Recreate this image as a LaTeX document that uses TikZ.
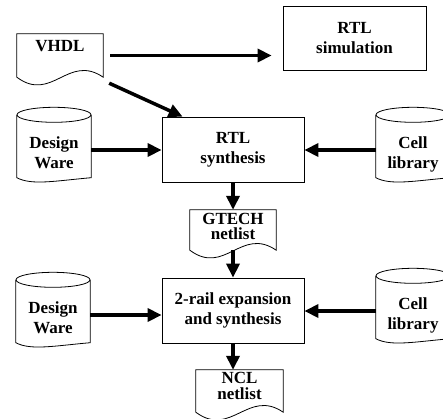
\documentclass[tikz,border=0pt]{standalone}
\usepackage{fontspec}
\setmainfont{Liberation Serif}
\usetikzlibrary{arrows.meta,calc}
\newcommand{\docoutline}[1]{%
  \draw[line width=0.8pt] (#1.north west) -- (#1.north east) -- (#1.south east)
    .. controls +(-35,-24) and +(35,26) .. (#1.south west) -- cycle;}
\newcommand{\drumoutline}[1]{%
  \draw[line width=0.8pt] ($(#1.north west)+(0,-7.5)$) -- (#1.south west)
    .. controls +(15,8) and +(-35,3) .. (#1.south east) -- ($(#1.north east)+(0,-7.5)$);
  \draw[line width=0.8pt] ($(#1.north)+(0,-7.5)$) ellipse [x radius=37pt, y radius=7.5pt];}

\begin{document}
\begin{tikzpicture}[x=1pt,y=-1pt,
    every node/.style={font=\bfseries\fontsize{17}{20}\selectfont, align=center, inner sep=1pt},
    box/.style={draw, line width=0.8pt, minimum width=142pt, minimum height=65pt},
    doc/.style={font=\bfseries\fontsize{17}{15.5}\selectfont, minimum width=86pt},
    drum/.style={minimum width=74pt, minimum height=55pt, text height=41pt, text depth=4pt},
    flow/.style={-{Triangle[length=14pt,width=13pt]}, line width=3.5pt}]
    \useasboundingbox (0,0) rectangle (443,418);

    \node[doc, minimum height=43pt, text depth=19pt] (vhdl) at (60,55.5) {VHDL};
    \node[box, minimum width=143pt, minimum height=64pt] (rtlsim) at (354.5,38) {RTL\\simulation};
    \node[box] (rtlsyn) at (233,149.5) {RTL\\synthesis};
    \node[drum] (dw1) at (54,150) {Design\\Ware};
    \node[drum] (cell1) at (413,150) {Cell\\library};
    \node[doc, minimum height=40pt, text depth=7pt] (gtech) at (233,230) {GTECH\\netlist};
    \node[box] (tworail) at (233,310.5) {2-rail expansion\\and synthesis};
    \node[drum] (dw2) at (53,315) {Design\\Ware};
    \node[drum] (cell2) at (413,311) {Cell\\library};
    \node[doc, minimum width=87pt, minimum height=42pt, text depth=10pt] (ncl) at (239.5,391) {NCL\\netlist};

    \docoutline{vhdl}
    \docoutline{gtech}
    \docoutline{ncl}
    \drumoutline{dw1}
    \drumoutline{cell1}
    \drumoutline{dw2}
    \drumoutline{cell2}

    \path[flow]
    (vhdl.east) edge [shorten <=7pt, shorten >=11pt] (vhdl.east -| rtlsim.west)
    ($(vhdl.south east)+(6,6)$) edge ([xshift=21pt]rtlsyn.north west)
    (dw1) edge (dw1 -| rtlsyn.west)
    (cell1) edge (cell1 -| rtlsyn.east)
    (rtlsyn) edge (gtech)
    (gtech) edge (tworail)
    (dw2) edge (dw2 -| tworail.west)
    (cell2) edge (cell2 -| tworail.east)
    (tworail) edge (tworail |- ncl.north)
    ;
\end{tikzpicture}
\end{document}
